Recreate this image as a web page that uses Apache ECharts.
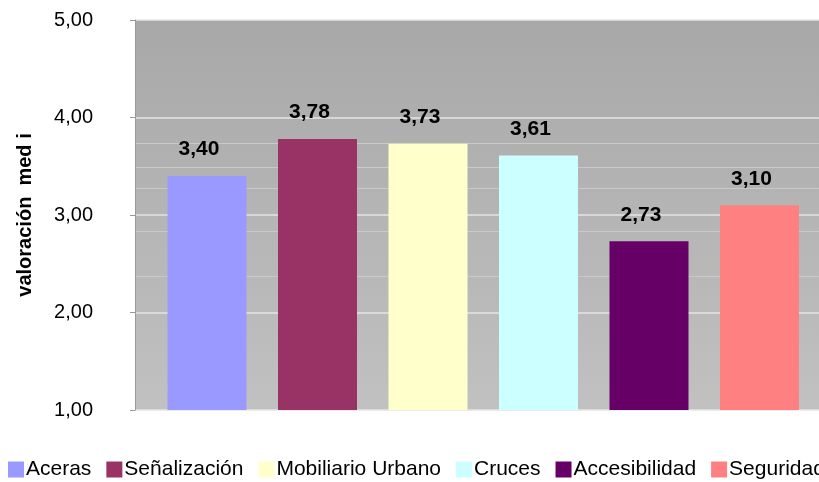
<!DOCTYPE html>
<html>
<head>
<meta charset="utf-8">
<script src="https://cdn.jsdelivr.net/npm/echarts@6/dist/echarts.min.js"></script>
<style>
  html, body { margin: 0; padding: 0; background: #ffffff; }
  #chart { width: 819px; height: 482px; }
</style>
</head>
<body>
<div id="chart"></div>
<script>
// Valoración media por aspecto
const categories = ['Aceras', 'Señalización', 'Mobiliario Urbano', 'Cruces', 'Accesibilidad', 'Seguridad'];
const values = [3.40, 3.78, 3.73, 3.61, 2.73, 3.10];
const barColors = ['#9999ff', '#993366', '#ffffcc', '#ccffff', '#660066', '#ff8080'];
const yTicks = { min: 1, max: 5, interval: 1 };
const yAxisTitle = 'valoración  med i';

const fmt = v => v.toFixed(2).replace('.', ',');

// Stepped grey fill of the plot area, darker at the top, with faint light bands
function plotFill() {
  const top = 0xa8, bottom = 0xc1;
  const shade = f => {
    const v = Math.round(top + (bottom - top) * f).toString(16);
    return '#' + v + v + v;
  };
  const bands = [0.318, 0.379, 0.433, 0.544, 0.659];
  const w = 0.003;
  const stops = [{ offset: 0, color: shade(0) }];
  bands.forEach(b => {
    stops.push({ offset: b - w, color: shade(b) });
    stops.push({ offset: b - w, color: '#c9c9c9' });
    stops.push({ offset: b, color: '#c9c9c9' });
    stops.push({ offset: b, color: shade(b) });
  });
  stops.push({ offset: 1, color: shade(1) });
  return new echarts.graphic.LinearGradient(0, 0, 0, 1, stops);
}

const chart = echarts.init(document.getElementById('chart'), null, { renderer: 'canvas' });

const font = 'Liberation Sans, Arial, sans-serif';

chart.setOption({
  animation: false,
  backgroundColor: '#ffffff',
  textStyle: { fontFamily: font },
  grid: [
    { left: 135, right: 0, top: 20, bottom: 72, show: true, borderWidth: 0, backgroundColor: plotFill() },
    { left: 151.75, right: 4.25, top: 20, bottom: 72 }
  ],
  legend: {
    left: 8,
    top: 459,
    width: 1600,
    padding: 0,
    itemWidth: 16,
    itemHeight: 16,
    itemGap: 15,
    icon: 'rect',
    textStyle: { fontSize: 21, color: '#000000', fontFamily: font, padding: [0, 0, 0, -3] },
    data: categories
  },
  xAxis: [
    { gridIndex: 0, type: 'category', data: [''], show: false },
    { gridIndex: 1, type: 'category', data: categories, show: false }
  ],
  yAxis: [
    {
      gridIndex: 0,
      type: 'value',
      min: yTicks.min, max: yTicks.max, interval: yTicks.interval,
      name: yAxisTitle,
      nameLocation: 'middle',
      nameGap: 100,
      nameTextStyle: { fontSize: 20, fontWeight: 'bold', color: '#000000', fontFamily: font },
      axisLine: { show: true, lineStyle: { color: '#9a9a9a', width: 1 } },
      axisTick: { show: true, length: 5, lineStyle: { color: '#9a9a9a' } },
      axisLabel: { fontSize: 20, color: '#000000', margin: 42, formatter: v => fmt(v), fontFamily: font },
      splitLine: { show: true, lineStyle: { color: '#e4e4e4', width: 1.5 } }
    },
    {
      gridIndex: 1,
      type: 'value',
      min: yTicks.min, max: yTicks.max, interval: yTicks.interval,
      show: false,
      splitLine: { show: false }
    }
  ],
  series: categories.map((name, i) => ({
    name: name,
    type: 'bar',
    xAxisIndex: 1,
    yAxisIndex: 1,
    stack: 'all',
    barWidth: 79,
    itemStyle: { color: barColors[i] },
    label: {
      show: true,
      position: 'top',
      distance: 16,
      offset: [-8, 0],
      fontSize: 21,
      fontWeight: 'bold',
      color: '#000000',
      fontFamily: font,
      formatter: p => fmt(p.value)
    },
    data: categories.map((c, j) => (j === i ? values[i] : '-'))
  }))
});
</script>
</body>
</html>
